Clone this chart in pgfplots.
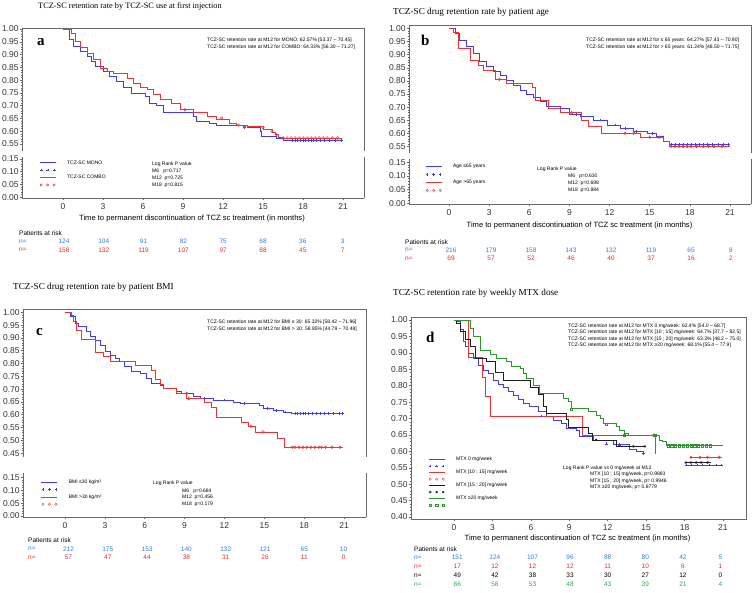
\documentclass[border=0pt]{standalone}
\usepackage{fontspec}
\setmainfont{Liberation Serif}
\setsansfont{Liberation Sans}
\usepackage{pgfplots}
\pgfplotsset{compat=1.18}

\definecolor{cBlue}{RGB}{60,60,250}
\definecolor{cRed}{RGB}{240,50,50}
\definecolor{cGreen}{RGB}{45,150,45}
\definecolor{cBlack}{RGB}{30,30,30}
\definecolor{nBlue}{RGB}{45,125,225}
\definecolor{nRed}{RGB}{225,45,45}
\definecolor{nGreen}{RGB}{45,165,85}
\definecolor{cFrame}{RGB}{105,105,105}

\newcommand\fs[1]{\fontsize{#1}{#1}\selectfont}

\pgfplotsset{
  km/.style={
    scale only axis,
    axis line style={cFrame, line width=0.7pt},
    tick style={cFrame, line width=0.5pt},
    tick align=outside,
    major tick length=2.2pt,
    minor tick length=1.2pt,
    ticklabel style={font=\sffamily\fs{8.5}, text=black!80},
    /pgf/number format/assume math mode=true,
    yticklabel style={/tikz/inner sep=1pt, /pgf/number format/fixed, /pgf/number format/fixed zerofill, /pgf/number format/precision=2},
    minor y tick num=4,
  },
  kmup/.style={km, axis x line*=top, axis y line*=box, ytick pos=left, xtick=\empty},
  kmlow/.style={km, axis x line*=bottom, axis y line*=box, ytick pos=left,
    xtick={0,3,...,21}, minor xtick={-1.5,1.5,4.5,7.5,10.5,13.5,16.5,19.5,22.5},
    ytick={0,0.05,0.10,0.15}},
  kmline/.style={const plot, line width=0.7pt},
  cens/.style={only marks, mark size=1.3pt, line width=0.5pt},
  lgline/.style={legend image code/.code={\draw[##1, line width=0.8pt] (0pt,0pt) -- (16pt,0pt); \path[draw=none] (0pt,0pt) -- (27pt,0pt);}},
  lgmark/.style={legend image code/.code={\draw[##1] plot[only marks, mark repeat=1] coordinates {(1.5pt,0pt) (8pt,0pt) (14.5pt,0pt)}; \path[draw=none] (0pt,0pt) -- (27pt,0pt);}},
  lgstyle/.style={legend cell align=left, legend style={draw=none, fill=none, font=\sffamily\fs{5}, inner sep=0pt, nodes={inner sep=0.4pt, text height=3.6pt, text depth=1pt}, row sep=#1}},
}

\tikzset{
  ttl/.style={anchor=west, font=\fs{9.2}, inner sep=0pt},
  lett/.style={anchor=west, font=\bfseries\fs{15}, inner sep=0pt},
  note/.style={anchor=west, font=\sffamily\fs{5}, inner sep=0pt},
  xlab/.style={font=\sffamily\fs{7.6}, inner sep=0pt},
  risk/.style={font=\sffamily\fs{6.5}, inner sep=0pt},
}

\begin{document}
\begin{tikzpicture}
\useasboundingbox (0pt,0pt) rectangle (755pt,-592pt);

% ---------------- panel a ----------------
\node[ttl, font=\fs{8.3}] at (38pt,-6pt) {TCZ-SC retention rate by TCZ-SC use at first injection};
\begin{axis}[kmup, at={(22pt,-28pt)}, anchor=north west, width=342pt, height=123pt,
  xmin=-3.07, xmax=22.57, ymin=0.5226, ymax=1.004,
  ytick={0.55,0.60,0.65,0.70,0.75,0.80,0.85,0.90,0.95,1.00}]
\addplot[kmline, cBlue] coordinates {
 (0,1.000) (0.5,0.958) (0.78,0.932) (1.3,0.913) (1.8,0.893) (2.1,0.875) (2.4,0.854)
 (3.0,0.834) (3.5,0.815) (4.0,0.795) (4.5,0.773) (5.15,0.750) (6.15,0.737) (6.5,0.710)
 (7.0,0.700) (7.5,0.674) (9.8,0.658) (10.0,0.640) (11.0,0.630) (11.5,0.622) (13.8,0.615)
 (14.8,0.600) (14.9,0.580) (16.0,0.573) (16.5,0.563) (20.9,0.563)};
\addplot[kmline, cRed] coordinates {
 (0,1.000) (0.65,0.984) (0.9,0.952) (1.3,0.930) (1.8,0.906) (2.3,0.880) (2.8,0.847)
 (3.3,0.834) (3.8,0.825) (4.8,0.808) (5.3,0.789) (5.8,0.772) (6.3,0.763) (6.8,0.743)
 (7.3,0.726) (8.15,0.710) (8.8,0.684) (9.8,0.674) (10.8,0.658) (11.5,0.645) (12.5,0.632)
 (13.0,0.622) (13.8,0.618) (15.0,0.606) (15.7,0.596) (15.9,0.587) (16.15,0.577)
 (16.5,0.574) (20.9,0.574)};
\addplot[cens, cBlue, mark=+] coordinates {
 (13.6,0.615) (16.2,0.573) (17.2,0.563) (17.4,0.563) (17.6,0.563) (17.8,0.563) (18.0,0.563)
 (18.2,0.563) (18.4,0.563) (18.6,0.563) (18.8,0.563) (19.0,0.563) (19.3,0.563) (19.6,0.563)
 (20.0,0.563) (20.4,0.563) (20.9,0.563)};
\addplot[cens, cRed, mark=o] coordinates {
 (9.15,0.684) (11.9,0.652) (13.15,0.624) (13.6,0.618) (15.0,0.615) (15.65,0.600) (16.0,0.587)
 (16.5,0.574) (16.8,0.574) (17.1,0.574) (17.4,0.574) (17.7,0.574) (18.0,0.574) (18.3,0.574)
 (18.6,0.574) (18.9,0.574) (19.2,0.574) (19.5,0.574) (19.8,0.574) (20.2,0.574) (20.6,0.574)};
\end{axis}
\begin{axis}[kmlow, at={(22pt,-157pt)}, anchor=north west, width=342pt, height=41pt,
  xmin=-3.07, xmax=22.57, ymin=-0.003, ymax=0.157,
  lgstyle=2pt, legend style={at={(0.05,0.93)}, anchor=north west}]
\addlegendimage{lgline, cBlue}
\addlegendentry{TCZ-SC MONO}
\addlegendimage{lgmark, cBlue, mark=+, mark size=1.3pt}
\addlegendentry{}
\addlegendimage{lgline, cRed}
\addlegendentry{TCZ-SC COMBO}
\addlegendimage{lgmark, cRed, mark=o, mark size=1.2pt}
\addlegendentry{}
\end{axis}
\node[lett] at (37pt,-42pt) {a};
\node[note] at (207pt,-40pt) {TCZ-SC retention rate at M12 for MONO: 62.57\% [53.37 – 70.45]};
\node[note] at (207pt,-47pt) {TCZ-SC retention rate at M12 for COMBO: 64.33\% [56.30 – 71.27]};
\node[note] at (152pt,-164pt) {Log Rank P value};
\node[note] at (152pt,-171pt) {M6\ \ \ p=0.717};
\node[note] at (152pt,-178pt) {M12\ \ p=0.725};
\node[note] at (152pt,-185pt) {M18\ \ p=0.815};
\node[xlab] at (192pt,-219pt) {Time to permanent discontinuation of TCZ sc treatment (in months)};
\node[risk, anchor=west] at (19pt,-233pt) {Patients at risk};
\node[risk, anchor=west, text=nBlue] at (19pt,-241.7pt) {n=};
\node[risk, anchor=west, text=nRed] at (19pt,-250pt) {n=};
\foreach \v [count=\i from 0] in {124,104,91,82,75,68,36,3}
  \node[risk, text=nBlue] at ({64pt+\i*39.8pt},-241.7pt) {\v};
\foreach \v [count=\i from 0] in {158,132,119,107,97,88,45,7}
  \node[risk, text=nRed] at ({64pt+\i*39.8pt},-250pt) {\v};

% ---------------- panel b ----------------
\node[ttl] at (393pt,-12pt) {TCZ-SC drug retention rate by patient age};
\begin{axis}[kmup, at={(409pt,-25pt)}, anchor=north west, width=342pt, height=128pt,
  xmin=-2.99, xmax=22.57, ymin=0.526, ymax=1.0125,
  ytick={0.55,0.60,0.65,0.70,0.75,0.80,0.85,0.90,0.95,1.00}]
\addplot[kmline, cBlue] coordinates {
 (0,1.000) (0.45,0.981) (0.8,0.956) (1.3,0.930) (1.8,0.905) (2.3,0.873) (2.8,0.854)
 (3.3,0.835) (3.8,0.823) (4.3,0.804) (4.8,0.785) (5.3,0.766) (5.8,0.750) (6.3,0.737)
 (6.8,0.721) (7.3,0.702) (8.3,0.695) (9.0,0.673) (9.8,0.664) (10.8,0.651) (11.8,0.632)
 (12.8,0.620) (13.8,0.607) (14.8,0.601) (15.5,0.588) (16.0,0.572) (16.5,0.559) (20.9,0.559)};
\addplot[kmline, cRed] coordinates {
 (0,1.000) (0.3,0.985) (0.7,0.925) (1.6,0.880) (2.2,0.860) (2.6,0.840) (3.5,0.806)
 (4.3,0.791) (6.2,0.776) (6.45,0.727) (7.4,0.696) (8.3,0.679) (9.9,0.651) (10.4,0.629)
 (11.4,0.601) (14.3,0.586) (16.0,0.572) (16.5,0.551) (21.0,0.551)};
\addplot[cens, cBlue, mark=+] coordinates {
 (9.5,0.673) (11.3,0.651) (12.4,0.632) (13.2,0.620) (14.0,0.607) (15.2,0.601)
 (16.6,0.559) (16.9,0.559) (17.2,0.559) (17.5,0.559) (17.8,0.559) (18.1,0.559) (18.4,0.559)
 (18.7,0.559) (19.0,0.559) (19.3,0.559) (19.7,0.559) (20.1,0.559) (20.5,0.559) (20.9,0.559)};
\addplot[cens, cRed, mark=o] coordinates {
 (3.76,0.806) (9.17,0.679) (13.15,0.601) (13.8,0.601) (15.0,0.586) (15.7,0.586)
 (16.6,0.551) (16.9,0.551) (17.2,0.551) (17.5,0.551) (17.8,0.551) (18.1,0.551) (18.5,0.551)
 (19.0,0.551) (19.4,0.551) (19.8,0.551) (20.4,0.551)};
\end{axis}
\begin{axis}[kmlow, at={(409pt,-159pt)}, anchor=north west, width=342pt, height=45pt,
  xmin=-2.99, xmax=22.57, ymin=-0.003, ymax=0.162,
  lgstyle=2.6pt, legend style={at={(0.047,0.9)}, anchor=north west}]
\addlegendimage{lgline, cBlue}
\addlegendentry{Age ≤65 years}
\addlegendimage{lgmark, cBlue, mark=+, mark size=1.3pt}
\addlegendentry{}
\addlegendimage{lgline, cRed}
\addlegendentry{Age >65 years}
\addlegendimage{lgmark, cRed, mark=o, mark size=1.2pt}
\addlegendentry{}
\end{axis}
\node[lett] at (421pt,-40pt) {b};
\node[note] at (586pt,-40pt) {TCZ-SC retention rate at M12 for ≤ 65 years: 64.27\% [57.43 – 70.90]};
\node[note] at (586pt,-47pt) {TCZ-SC retention rate at M12 for > 65 years: 61.24\% [48.50 – 71.75]};
\node[note] at (537pt,-169pt) {Log Rank P value};
\node[note] at (568pt,-176pt) {M6\ \ \ p=0.630};
\node[note] at (568pt,-183pt) {M12\ \ p=0.698};
\node[note] at (568pt,-190pt) {M18\ \ p=0.884};
\node[xlab] at (579.5pt,-226pt) {Time to permanent discontinuation of TCZ sc treatment (in months)};
\node[risk, anchor=west] at (405pt,-241.7pt) {Patients at risk};
\node[risk, anchor=west, text=nBlue] at (405pt,-250pt) {n=};
\node[risk, anchor=west, text=nRed] at (405pt,-258.3pt) {n=};
\foreach \v [count=\i from 0] in {216,179,158,143,132,119,65,8}
  \node[risk, text=nBlue] at ({451pt+\i*40pt},-250pt) {\v};
\foreach \v [count=\i from 0] in {69,57,52,46,40,37,16,2}
  \node[risk, text=nRed] at ({451pt+\i*40pt},-258.3pt) {\v};

% ---------------- panel c ----------------
\node[ttl] at (13pt,-287pt) {TCZ-SC drug retention rate by patient BMI};
\begin{axis}[kmup, at={(23pt,-309.3pt)}, anchor=north west, width=343pt, height=147.7pt,
  xmin=-3.16, xmax=22.65, ymin=0.4348, ymax=1.0117,
  ytick={0.45,0.50,0.55,0.60,0.65,0.70,0.75,0.80,0.85,0.90,0.95,1.00}]
\addplot[kmline, cBlue] coordinates {
 (0,1.000) (0.38,0.983) (0.75,0.957) (1.0,0.944) (1.63,0.924) (1.88,0.905) (2.26,0.892)
 (2.63,0.872) (3.0,0.846) (3.38,0.833) (3.76,0.820) (4.1,0.807) (4.5,0.787) (5.0,0.770)
 (5.64,0.761) (6.14,0.742) (6.5,0.722) (7.14,0.713) (7.4,0.702) (8.4,0.693) (8.77,0.683)
 (9.65,0.670) (10.15,0.663) (11.15,0.657) (12.65,0.650) (13.16,0.644) (14.66,0.637)
 (14.9,0.624) (15.66,0.617) (16.4,0.611) (17.0,0.604) (20.9,0.604)};
\addplot[kmline, cRed] coordinates {
 (0,1.000) (0.5,0.990) (0.63,0.963) (0.88,0.931) (1.25,0.894) (2.26,0.843) (2.88,0.826)
 (3.38,0.809) (5.26,0.791) (6.52,0.774) (6.77,0.738) (7.14,0.718) (7.4,0.702) (8.4,0.683)
 (9.15,0.663) (10.5,0.650) (11.0,0.630) (11.4,0.591) (13.3,0.572) (13.8,0.555) (14.3,0.533)
 (16.0,0.507) (16.5,0.473) (20.9,0.473)};
\addplot[cens, cBlue, mark=+] coordinates {
 (10.5,0.663) (12.0,0.657) (13.5,0.644) (15.2,0.624) (15.9,0.617) (16.6,0.611)
 (17.3,0.604) (17.5,0.604) (17.7,0.604) (17.9,0.604) (18.1,0.604) (18.3,0.604) (18.6,0.604)
 (18.9,0.604) (19.2,0.604) (19.5,0.604) (19.8,0.604) (20.2,0.604) (20.6,0.604) (20.9,0.604)};
\addplot[cens, cRed, mark=o] coordinates {
 (9.15,0.683) (9.3,0.663) (14.0,0.555) (14.9,0.533)
 (17.1,0.473) (17.3,0.473) (17.6,0.473) (17.9,0.473) (18.2,0.473) (18.5,0.473) (18.8,0.473)
 (19.1,0.473) (19.3,0.473) (19.6,0.473) (20.1,0.473) (20.7,0.473)};
\end{axis}
\begin{axis}[kmlow, at={(23pt,-473.3pt)}, anchor=north west, width=343pt, height=43.7pt,
  xmin=-3.16, xmax=22.65, ymin=-0.004, ymax=0.1654,
  lgstyle=2pt, legend style={at={(0.052,0.865)}, anchor=north west}]
\addlegendimage{lgline, cBlue}
\addlegendentry{BMI ≤30 kg/m²}
\addlegendimage{lgmark, cBlue, mark=+, mark size=1.3pt}
\addlegendentry{}
\addlegendimage{lgline, cRed}
\addlegendentry{BMI >30 kg/m²}
\addlegendimage{lgmark, cRed, mark=o, mark size=1.2pt}
\addlegendentry{}
\end{axis}
\node[lett] at (36pt,-332pt) {c};
\node[note] at (207pt,-322.7pt) {TCZ-SC retention rate at M12 for BMI ≤ 30: 65.32\% [58.42 – 71.96]};
\node[note] at (207pt,-329.3pt) {TCZ-SC retention rate at M12 for BMI > 30: 58.85\% [44.79 – 70.48]};
\node[note] at (153pt,-483pt) {Log Rank P value};
\node[note] at (182pt,-491pt) {M6\ \ \ p=0.684};
\node[note] at (182pt,-497pt) {M12\ \ p=0.456};
\node[note] at (182pt,-504pt) {M18\ \ p=0.179};
\node[risk, anchor=west] at (28pt,-540pt) {Patients at risk};
\node[risk, anchor=west, text=nBlue] at (28pt,-549pt) {n=};
\node[risk, anchor=west, text=nRed] at (28pt,-557.3pt) {n=};
\foreach \v [count=\i from 0] in {212,175,153,140,132,121,65,10}
  \node[risk, text=nBlue] at ({68.5pt+\i*39.3pt},-549pt) {\v};
\foreach \v [count=\i from 0] in {57,47,44,38,31,26,11,0}
  \node[risk, text=nRed] at ({68.5pt+\i*39.3pt},-557.3pt) {\v};

% ---------------- panel d ----------------
\node[ttl] at (393pt,-293pt) {TCZ-SC retention rate by weekly MTX dose};
\begin{axis}[km, at={(411pt,-317pt)}, anchor=north west, width=335pt, height=202pt,
  xmin=-3.36, xmax=22.8, ymin=0.394, ymax=1.009,
  xtick={0,3,...,21}, minor xtick={-1.5,1.5,4.5,7.5,10.5,13.5,16.5,19.5,22.5},
  xtick pos=bottom, ytick pos=left,
  ytick={0.40,0.45,0.50,0.55,0.60,0.65,0.70,0.75,0.80,0.85,0.90,0.95,1.00},
  lgstyle=1.1pt, legend style={at={(0.051,0.308)}, anchor=north west}]
\addplot[kmline, cBlue, forget plot] coordinates {
 (0,1.000) (0.26,0.995) (0.47,0.970) (0.73,0.934) (0.86,0.919) (1.12,0.899) (1.5,0.883)
 (1.9,0.863) (2.29,0.846) (2.68,0.836) (3.07,0.817) (3.46,0.805) (3.85,0.795) (4.24,0.782)
 (4.63,0.772) (5.0,0.757) (5.4,0.746) (5.9,0.736) (6.57,0.721) (7.22,0.706) (7.74,0.693)
 (8.4,0.684) (8.78,0.670) (9.56,0.665) (9.8,0.645) (10.86,0.635) (12.42,0.620) (13.7,0.607)
 (14.2,0.600) (14.76,0.594) (14.9,0.594)};
\addplot[kmline, cBlue, forget plot] coordinates {(18.0,0.558) (21.0,0.558)};
\addplot[kmline, cRed, forget plot] coordinates {
 (0,1.000) (1.1,0.886) (2.2,0.826) (2.42,0.767) (2.8,0.708) (10.03,0.650) (15.7,0.592)};
\addplot[kmline, cRed, forget plot] coordinates {(18.4,0.582) (20.9,0.582)};
\addplot[kmline, cBlack, forget plot] coordinates {
 (0,1.000) (0.2,0.990) (0.47,0.964) (0.86,0.940) (1.25,0.919) (1.64,0.883) (2.55,0.873)
 (3.2,0.840) (3.85,0.817) (5.93,0.795) (6.57,0.774) (6.96,0.736) (7.22,0.716) (8.78,0.696)
 (8.91,0.673) (10.5,0.655) (10.8,0.635) (12.68,0.615) (14.9,0.615)};
\addplot[kmline, cBlack, forget plot] coordinates {(18.0,0.566) (20.1,0.566)};
\addplot[kmline, cGreen, forget plot] coordinates {
 (0,1.000) (1.25,0.975) (1.5,0.950) (2.03,0.909) (2.8,0.894) (3.33,0.883) (4.1,0.873)
 (4.5,0.858) (5.15,0.853) (5.4,0.838) (5.67,0.823) (6.2,0.802) (6.7,0.777) (8.52,0.762)
 (8.9,0.752) (9.17,0.731) (10.47,0.723) (11.1,0.711) (11.4,0.700) (11.64,0.686)
 (12.68,0.675) (12.94,0.665) (13.33,0.655) (13.6,0.650) (16.06,0.635) (16.3,0.630)
 (16.6,0.617) (21.0,0.617)};
\addplot[cens, cBlue, mark=+, forget plot] coordinates {
 (6.8,0.708) (11.9,0.623) (12.9,0.620) (14.76,0.594)
 (18.1,0.558) (18.5,0.558) (19.0,0.558) (19.4,0.558) (19.9,0.558) (20.5,0.558) (20.9,0.558)};
\addplot[cens, cRed, mark=o, forget plot] coordinates {
 (13.33,0.650) (15.6,0.650) (18.5,0.582) (19.2,0.582) (19.8,0.582) (20.7,0.582)};
\addplot[cens, cBlack, mark=asterisk, forget plot] coordinates {
 (11.1,0.635) (14.0,0.615) (14.9,0.615)
 (18.1,0.566) (18.5,0.566) (18.9,0.566) (19.3,0.566) (19.8,0.566)};
\addplot[cens, cGreen, mark=square, mark size=1.1pt, forget plot] coordinates {
 (9.17,0.728) (11.9,0.683) (13.3,0.650) (15.67,0.650)
 (16.7,0.617) (17.0,0.617) (17.3,0.617) (17.6,0.617) (17.9,0.617) (18.2,0.617) (18.5,0.617)
 (18.8,0.617) (19.1,0.617) (19.4,0.617) (19.7,0.617) (20.0,0.617)};
\addlegendimage{lgline, cBlue}
\addlegendentry{MTX 0 mg/week}
\addlegendimage{lgmark, cBlue, mark=+, mark size=1.3pt}
\addlegendentry{}
\addlegendimage{lgline, cRed}
\addlegendentry{MTX [10 ; 15] mg/week}
\addlegendimage{lgmark, cRed, mark=o, mark size=1.2pt}
\addlegendentry{}
\addlegendimage{lgline, cBlack}
\addlegendentry{MTX [15 ; 20] mg/week}
\addlegendimage{lgmark, cBlack, mark=asterisk, mark size=1.3pt}
\addlegendentry{}
\addlegendimage{lgline, cGreen}
\addlegendentry{MTX ≥20 mg/week}
\addlegendimage{lgmark, cGreen, mark=square, mark size=1.1pt}
\addlegendentry{}
\end{axis}
\node[lett] at (426pt,-337pt) {d};
\node[note] at (568pt,-326pt) {TCZ-SC retention rate at M12 for MTX 0 mg/week: 62.4\% [54.0 – 68.7]};
\node[note] at (568pt,-332.3pt) {TCZ-SC retention rate at M12 for MTX [10 ; 15] mg/week: 64.7\% [37.7 – 82.5]};
\node[note] at (568pt,-339pt) {TCZ-SC retention rate at M12 for MTX [15 ; 20] mg/week: 63.3\% [48.2 – 75.0]};
\node[note] at (568pt,-345.7pt) {TCZ-SC retention rate at M12 for MTX ≥20 mg/week: 68.1\% [55.4 – 77.9]};
\node[note] at (563pt,-468pt) {Log Rank P value vs 0 mg/week at M12};
\node[note] at (590pt,-474.5pt) {MTX [10 ; 15] mg/week, p=0.9883};
\node[note] at (590pt,-481pt) {MTX [15 ; 20] mg/week, p= 0.9946};
\node[note] at (590pt,-487.5pt) {MTX ≥20 mg/week, p= 0.8779};
\node[xlab] at (577.5pt,-539pt) {Time to permanent discontinuation of TCZ sc treatment (in months)};
\node[risk, anchor=west] at (414pt,-549.3pt) {Patients at risk};
\node[risk, anchor=west, text=nBlue] at (414pt,-557.7pt) {n=};
\node[risk, anchor=west, text=nRed] at (414pt,-566.7pt) {n=};
\node[risk, anchor=west, text=black] at (414pt,-575.7pt) {n=};
\node[risk, anchor=west, text=nGreen] at (414pt,-584.3pt) {n=};
\foreach \v [count=\i from 0] in {151,124,107,96,88,80,42,5}
  \node[risk, text=nBlue] at ({457.3pt+\i*37.6pt},-557.7pt) {\v};
\foreach \v [count=\i from 0] in {17,12,12,12,11,10,6,1}
  \node[risk, text=nRed] at ({457.3pt+\i*37.6pt},-566.7pt) {\v};
\foreach \v [count=\i from 0] in {49,42,38,33,30,27,12,0}
  \node[risk, text=black] at ({457.3pt+\i*37.6pt},-575.7pt) {\v};
\foreach \v [count=\i from 0] in {66,58,53,48,43,39,21,4}
  \node[risk, text=nGreen] at ({457.3pt+\i*37.6pt},-584.3pt) {\v};
\end{tikzpicture}
\end{document}
